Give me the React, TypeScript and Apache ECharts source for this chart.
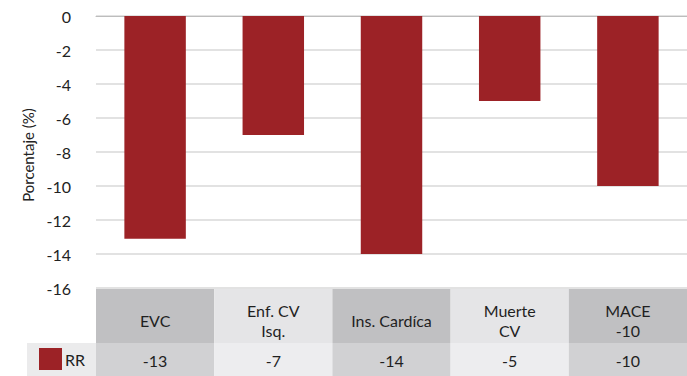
import React, { useEffect, useRef } from "react";
import * as echarts from "echarts";

const categories = ["EVC", "Enf. CV\nIsq.", "Ins. Cardíca", "Muerte\nCV", "MACE\n-10"];
const values = [-13.1, -7, -14, -5, -10];
const valueLabels = ["-13", "-7", "-14", "-5", "-10"];
const seriesName = "RR";

const FONT = "Lato, 'Noto Sans', sans-serif";

export default function App() {
  const ref = useRef<HTMLDivElement>(null);
  useEffect(() => {
    if (!ref.current) return;
    const chart = echarts.init(ref.current, undefined, { renderer: "svg" });
    chart.setOption({
      animation: false,
      backgroundColor: "#ffffff",
      textStyle: { fontFamily: FONT },
      grid: { left: 96, top: 16, width: 598, height: 272, containLabel: false },
      legend: {
        data: [seriesName],
        left: 39,
        top: 348,
        icon: "rect",
        itemWidth: 23,
        itemHeight: 22,
        itemGap: 4,
        padding: 0,
        textStyle: { fontSize: 16, color: "#222", fontFamily: FONT, padding: [0, 0, 0, -2] },
        selectedMode: false,
      },
      graphic: [
        {
          type: "rect",
          z: -1,
          shape: { x: 27, y: 343, width: 69, height: 40 },
          style: { fill: "#ebebec" },
        },
      ],
      xAxis: {
        type: "category",
        data: categories,
        axisLabel: { show: false },
        axisTick: { show: false },
        axisLine: { show: true, lineStyle: { color: "#bdbdbd" } },
      },
      yAxis: {
        type: "value",
        min: -16,
        max: 0,
        interval: 2,
        name: "Porcentaje (%)",
        nameLocation: "middle",
        nameGap: 58,
        nameTextStyle: { fontSize: 15, color: "#222", fontFamily: FONT, padding: [0, 6, 0, 0] },
        axisLabel: { fontSize: 16, color: "#222", margin: 25, fontFamily: FONT },
        axisLine: { show: false },
        axisTick: { show: false },
        splitLine: { lineStyle: { color: "#d9d9d9", width: 1.5 } },
      },
      series: [
        {
          name: seriesName,
          type: "bar",
          data: values,
          barWidth: "52%",
          itemStyle: { color: "#9c2226" },
        },
        {
          name: "table",
          type: "custom",
          clip: false,
          silent: true,
          z: 5,
          encode: { x: 0, y: 1 },
          data: values.map((v, i) => [i, v]),
          renderItem: (params: any, api: any) => {
            const i = api.value(0);
            const cx = api.coord([i, 0])[0];
            const w = api.size([1, 0])[0];
            const top = params.coordSys.y + params.coordSys.height + 1;
            const dark = i % 2 === 0;
            const label = categories[i];
            return {
              type: "group",
              children: [
                {
                  type: "rect",
                  shape: { x: cx - w / 2, y: top, width: w, height: 54 },
                  style: { fill: dark ? "#c0c0c2" : "#e5e5e7" },
                },
                {
                  type: "text",
                  x: cx,
                  y: top + 31,
                  style: {
                    text: label,
                    fill: "#1f1f1f",
                    fontSize: 16,
                    fontFamily: FONT,
                    lineHeight: 20,
                    align: "center",
                    verticalAlign: "middle",
                  },
                },
                {
                  type: "rect",
                  shape: { x: cx - w / 2, y: top + 54, width: w, height: 40 },
                  style: { fill: dark ? "#d1d1d3" : "#ededef" },
                },
                {
                  type: "text",
                  x: cx,
                  y: top + 71,
                  style: {
                    text: valueLabels[i],
                    fill: "#1f1f1f",
                    fontSize: 16,
                    fontFamily: FONT,
                    align: "center",
                    verticalAlign: "middle",
                  },
                },
              ],
            };
          },
        },
      ],
    });
    return () => chart.dispose();
  }, []);
  return <div ref={ref} style={{ width: 687, height: 376, position: "absolute", left: 0, top: 0 }} />;
}
